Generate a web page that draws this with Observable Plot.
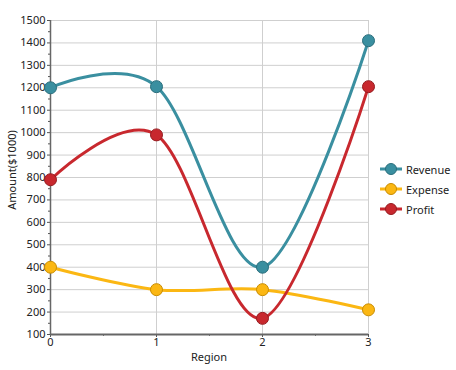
<!DOCTYPE html>
<html>
<head>
<meta charset="utf-8">
<script src="https://cdn.jsdelivr.net/npm/d3@7"></script>
<script src="https://cdn.jsdelivr.net/npm/@observablehq/plot@0.6"></script>
<style>
  html, body { margin: 0; padding: 0; background: #fff; }
  #wrap { position: relative; width: 456px; height: 370px; font-family: "Noto Sans", "Open Sans", sans-serif; }
  #legend { position: absolute; left: 380px; top: 159px; font-size: 11px; color: #222; }
  .li { display: flex; align-items: center; height: 20px; }
  .li svg { margin-right: 4px; }
</style>
</head>
<body>
<div id="wrap"></div>
<script>
const regions = [0, 1, 2, 3];
const seriesNames = ["Revenue", "Expense", "Profit"];
const revenue = [1200, 1205, 400, 1410];
const expense = [400, 300, 300, 210];
const profit = [790, 990, 172, 1205];
const colors = ["#3a8fa0", "#fbb713", "#c8282e"];
const strokes = ["#2a6e7c", "#c98c00", "#961c20"];
const yTicks = d3.range(100, 1501, 100);
const yMinor = d3.range(150, 1500, 100);
const xTicks = [0, 1, 2, 3];
const xMinor = [0.5, 1.5, 2.5];

const valuesBySeries = [revenue, expense, profit];
const data = [];
seriesNames.forEach((s, i) => regions.forEach((r, j) => data.push({series: s, region: r, amount: valuesBySeries[i][j]})));

const strokeOf = Object.fromEntries(seriesNames.map((s, i) => [s, strokes[i]]));

const chart = Plot.plot({
  width: 456,
  height: 370,
  marginLeft: 50,
  marginRight: 88,
  marginTop: 20,
  marginBottom: 36,
  style: {fontFamily: "'Noto Sans', sans-serif", fontSize: "11px", color: "#222", background: "#fff"},
  x: {domain: [0, 3]},
  y: {domain: [100, 1500]},
  color: {domain: seriesNames, range: colors},
  marks: [
    Plot.gridY(yTicks, {stroke: "#cfcfcf", strokeOpacity: 1}),
    Plot.gridX([1, 2, 3], {stroke: "#cfcfcf", strokeOpacity: 1}),
    Plot.axisY(yTicks, {tickSize: 3, tickPadding: 2, stroke: "#555", fill: "#222", label: null, tickFormat: d => String(d)}),
    Plot.axisY(yMinor, {tickSize: 2, stroke: "#555", text: null, label: null}),
    Plot.axisX(xTicks, {tickSize: 3, tickPadding: 1, stroke: "#555", fill: "#222", label: null, tickFormat: d => String(d)}),
    Plot.axisX(xMinor, {tickSize: 2, stroke: "#777", text: null, label: null}),
    Plot.ruleX([0], {stroke: "#666", strokeWidth: 1.5}),
    Plot.ruleY([100], {stroke: "#666", strokeWidth: 2}),
    Plot.line(data, {x: "region", y: "amount", z: "series", stroke: "series", strokeWidth: 3, curve: "cardinal"}),
    Plot.dot(data, {x: "region", y: "amount", fill: "series", stroke: d => strokeOf[d.series], strokeWidth: 1, r: 6})
  ]
});

const wrap = document.getElementById("wrap");
wrap.appendChild(chart);

// axis titles
const svg = d3.select(chart);
svg.append("text").attr("x", 209).attr("y", 361).attr("text-anchor", "middle")
  .style("font-size", "11px").attr("fill", "#222").text("Region");
svg.append("text").attr("transform", "translate(16,170) rotate(-90)").attr("text-anchor", "middle")
  .style("font-size", "11px").attr("fill", "#222").text("Amount($1000)");

// legend
const legend = document.createElement("div");
legend.id = "legend";
seriesNames.forEach((s, i) => {
  const row = document.createElement("div");
  row.className = "li";
  row.innerHTML = `<svg width="22" height="14"><line x1="0" x2="22" y1="7" y2="7" stroke="${colors[i]}" stroke-width="3"/><circle cx="11" cy="7" r="5.5" fill="${colors[i]}" stroke="${strokes[i]}" stroke-width="1"/></svg><span>${s}</span>`;
  legend.appendChild(row);
});
wrap.appendChild(legend);
</script>
</body>
</html>
